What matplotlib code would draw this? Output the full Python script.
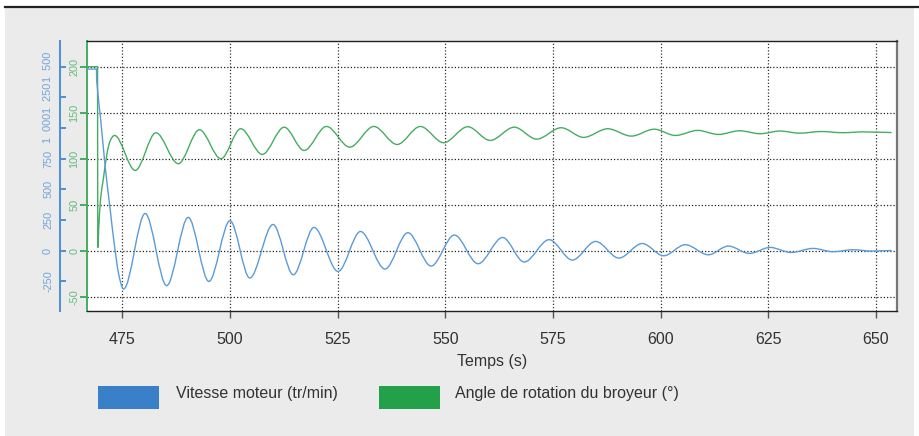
import matplotlib
matplotlib.use("Agg")
import matplotlib.pyplot as plt
from matplotlib.path import Path
from matplotlib.patches import PathPatch, Rectangle
from matplotlib.lines import Line2D
import numpy as np

plt.rcParams['font.family'] = ['Liberation Sans', 'DejaVu Sans']

# ---- data ----
x_ticks = [475, 500, 525, 550, 575, 600, 625, 650]
angle_ticks = [-50, 0, 50, 100, 150, 200]
speed_ticks = [-250, 0, 250, 500, 750, 1000, 1250, 1500]
speed_tick_labels = ['-250', '0', '250', '500', '750', '1  000', '1  250', '1  500']

speed_t = [466.9, 469.0, 469.05, 470.0, 471.1, 472.2, 473.0, 474.1, 475.3, 480.3,
           485.3, 490.3, 495.1, 500.0, 504.6, 510.0, 514.7, 519.5, 525.1, 530.3,
           536.0, 541.3, 546.7, 552.1, 557.6, 563.3, 568.3, 574.1, 579.5, 584.9,
           590.3, 595.7, 600.7, 605.7, 611.1, 615.7, 620.6, 625.4, 630.3, 635.4,
           640.0, 644.7, 649.2, 653.5]
speed_v = [1481, 1481, 1386, 1060, 660, 330, 90, -180, -312, 304,
           -285, 272, -250, 245, -222, 214, -196, 190, -169, 157,
           -149, 147, -125, 128, -106, 108, -92, 90, -76, 76,
           -60, 59, -41, 49, -33, 38, -22, 27, -14, 19,
           -8, 8, -3, 2]

angle_t = [466.95, 469.25, 469.3, 469.5, 469.9, 470.5, 471.5, 472.2, 473.2, 478.0,
           482.8, 488.0, 492.9, 497.9, 502.5, 507.5, 512.6, 517.2, 522.4, 527.8,
           533.4, 538.8, 544.2, 549.6, 555.2, 560.4, 566.0, 571.2, 576.9, 582.1,
           587.7, 593.2, 598.5, 603.4, 608.6, 613.4, 618.3, 623.1, 627.7, 632.3,
           637.3, 642.3, 647.0, 653.5]
angle_v = [200, 200, 3.6, 21.7, 54, 75, 107, 119.6, 125.3, 87.3,
           128.2, 94.6, 131.5, 100, 132.6, 104.7, 134.3, 109, 135.1, 112.6,
           135.1, 115.5, 135.1, 117.4, 134.8, 119.9, 134.3, 121.3, 133.7, 123.2,
           132.6, 124.6, 132.1, 125.3, 130.8, 126.4, 130.4, 127.2, 130.1, 127.8,
           129.6, 128.3, 129.2, 128.5]

legend_labels = ['Vitesse moteur (tr/min)', 'Angle de rotation du broyeur (°)']
x_label = 'Temps (s)'

# ---- style ----
BLUE_LINE = '#5b9bd8'
GREEN_LINE = '#45ad62'
BLUE_LEG = '#3a80c8'
GREEN_LEG = '#22a04a'
BLUE_TXT = '#6fa3dc'
GREEN_TXT = '#62bb7c'
BG = '#ebebeb'
TXT = '#333333'

W, H = 919, 436
fig = plt.figure(figsize=(W / 100, H / 100), dpi=100, facecolor='white')

def fx(px):
    return px / W

def fy(py):
    return 1 - py / H

# gray panel and top rule
fig.patches.append(Rectangle((fx(5), 0), fx(914) - fx(5), fy(8), transform=fig.transFigure,
                             facecolor=BG, edgecolor='none', zorder=-10))
fig.lines.append(Line2D([fx(5), fx(919)], [fy(7), fy(7)], transform=fig.transFigure,
                        color='#222222', lw=1.6, zorder=-9))

L, R, T, B = 87, 896.7, 40.7, 311
ax = fig.add_axes([fx(L), fy(B), fx(R) - fx(L), fy(T) - fy(B)])
ax.set_facecolor('white')
ax.set_xlim(466.8, 654.8)
ylo, yhi = -65.5, 228.3
ax.set_ylim(ylo, yhi)

ax2 = ax.twinx()
ax2.set_ylim(ylo * 7.5, yhi * 7.5)


def smooth_patch(axis, t, v, color, lw):
    t = np.asarray(t, float)
    v = np.asarray(v, float)
    n = len(t)
    m = np.zeros(n)
    for i in range(1, n - 1):
        d1 = v[i] - v[i - 1]
        d2 = v[i + 1] - v[i]
        if d1 * d2 <= 0:
            m[i] = 0.0
        else:
            m[i] = (v[i + 1] - v[i - 1]) / (t[i + 1] - t[i - 1])
    verts = [(t[0], v[0])]
    codes = [Path.MOVETO]
    for i in range(n - 1):
        h = t[i + 1] - t[i]
        verts += [(t[i] + h / 3, v[i] + m[i] * h / 3),
                  (t[i + 1] - h / 3, v[i + 1] - m[i + 1] * h / 3),
                  (t[i + 1], v[i + 1])]
        codes += [Path.CURVE4] * 3
    p = PathPatch(Path(verts, codes), facecolor='none', edgecolor=color, lw=lw,
                  capstyle='round', joinstyle='round', zorder=3)
    axis.add_patch(p)


# grid
for xt in x_ticks:
    ax.axvline(xt, color='#333333', lw=0.9, ls=(0, (1, 1.6)), zorder=1)
for yt in angle_ticks:
    ax.axhline(yt, color='#222222', lw=0.9, ls=(0, (1, 1.6)), zorder=1)

smooth_patch(ax, angle_t, angle_v, GREEN_LINE, 1.0)
smooth_patch(ax2, speed_t, speed_v, BLUE_LINE, 1.0)

# x axis
ax.set_xticks(x_ticks)
ax.set_xticklabels([str(v) for v in x_ticks])
ax.tick_params(axis='x', direction='out', length=5, width=1.0, color='#555555',
               labelsize=11.5, labelcolor=TXT, pad=10)

# green (angle) axis
ax.set_yticks(angle_ticks)
ax.set_yticklabels([str(v) for v in angle_ticks], rotation=90, va='center')
ax.tick_params(axis='y', direction='out', length=5, width=1.4, color=GREEN_LINE,
               labelsize=7.8, labelcolor=GREEN_TXT, pad=0.5)

# blue (speed) axis
ax2.yaxis.set_label_position('left')
ax2.yaxis.set_ticks_position('left')
ax2.spines['left'].set_position(('outward', 19.4))
ax2.spines['left'].set_visible(True)
ax2.spines['left'].set_color('#4a8fd6')
ax2.spines['left'].set_linewidth(1.4)
ax2.spines['right'].set_visible(False)
ax2.spines['top'].set_visible(False)
ax2.spines['bottom'].set_visible(False)
ax2.set_yticks(speed_ticks)
ax2.set_yticklabels(speed_tick_labels, rotation=90, va='center')
ax2.tick_params(axis='y', direction='in', length=4, width=1.4, color='#4a8fd6',
                labelsize=7.8, labelcolor=BLUE_TXT, pad=5)

# spines
ax.spines['left'].set_color(GREEN_LINE)
ax.spines['left'].set_linewidth(1.4)
ax.spines['top'].set_color('#222222')
ax.spines['top'].set_linewidth(1.0)
ax.spines['bottom'].set_color('#222222')
ax.spines['bottom'].set_linewidth(1.0)
ax.spines['right'].set_color('#777777')
ax.spines['right'].set_linewidth(1.6)

# x label
fig.text(fx((L + R) / 2), fy(366), x_label, ha='center', va='baseline',
         fontsize=11.5, color=TXT)

# legend
fig.patches.append(Rectangle((fx(98), fy(409)), fx(159) - fx(98), fy(386) - fy(409),
                             transform=fig.transFigure, facecolor=BLUE_LEG, edgecolor='none'))
fig.patches.append(Rectangle((fx(379), fy(409)), fx(440) - fx(379), fy(386) - fy(409),
                             transform=fig.transFigure, facecolor=GREEN_LEG, edgecolor='none'))
fig.text(fx(176.5), fy(398), legend_labels[0], ha='left', va='baseline', fontsize=11.5, color=TXT)
fig.text(fx(455), fy(398), legend_labels[1], ha='left', va='baseline', fontsize=11.5, color=TXT)

fig.savefig('out.png', dpi=100, facecolor='white')
